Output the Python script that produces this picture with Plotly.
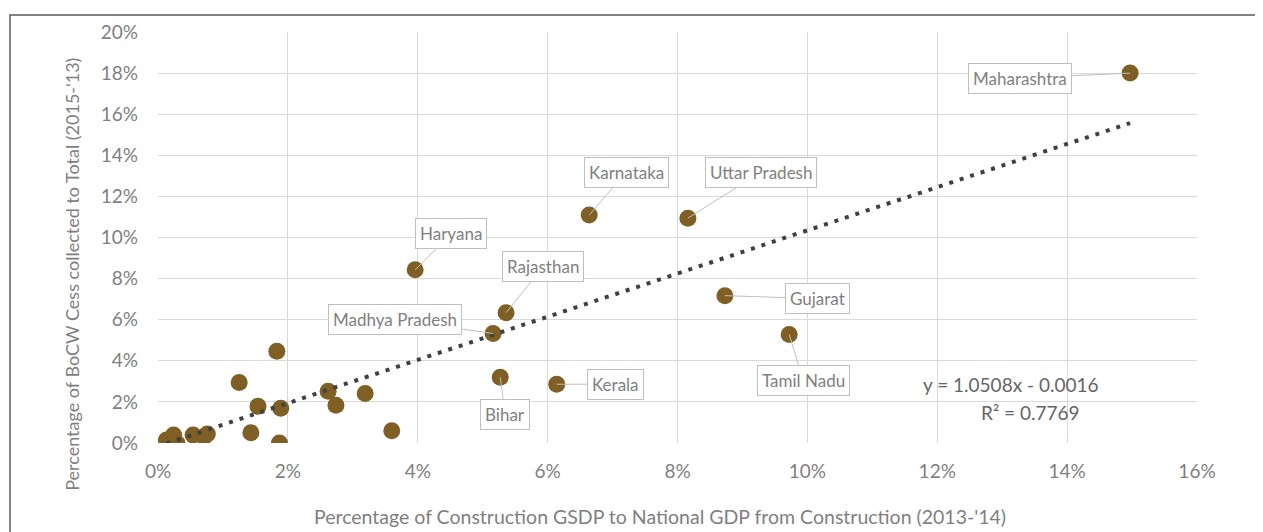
import plotly.graph_objects as go

# ---- data (fractions) ----
states = ["Maharashtra", "Karnataka", "Uttar Pradesh", "Haryana", "Rajasthan",
          "Madhya Pradesh", "Gujarat", "Tamil Nadu", "Bihar", "Kerala",
          "", "", "", "", "", "", "", "", "", "", "", "", "", "", "", ""]
gsdp_share = [0.1497, 0.0664, 0.0816, 0.0396, 0.0536,
              0.0516, 0.0873, 0.0972, 0.0527, 0.0614,
              0.0183, 0.0125, 0.0154, 0.0189, 0.0143, 0.0187, 0.0262, 0.0274,
              0.0319, 0.0360, 0.0013, 0.0024, 0.0029, 0.0054, 0.0071, 0.0076]
cess_share = [0.1800, 0.1109, 0.1094, 0.0843, 0.0634,
              0.0533, 0.0717, 0.0528, 0.0320, 0.0286,
              0.0447, 0.0294, 0.0179, 0.0169, 0.0050, 0.0000, 0.0252, 0.0184,
              0.0241, 0.0060, 0.0015, 0.0039, 0.0000, 0.0039, 0.0031, 0.0044]
slope = 1.0508
intercept = -0.0016
r_squared = 0.7769
x_ticks = [0, 0.02, 0.04, 0.06, 0.08, 0.10, 0.12, 0.14, 0.16]
y_ticks = [0, 0.02, 0.04, 0.06, 0.08, 0.10, 0.12, 0.14, 0.16, 0.18, 0.20]

x_title = "Percentage of Construction GSDP to National GDP from Construction (2013-'14)"
y_title = "Percentage of BoCW Cess collected to Total (2015-'13)"

# label offsets (pixels) for callouts
label_offsets = {
    "Maharashtra": (-110, 5), "Karnataka": (37, -43), "Uttar Pradesh": (73, -46),
    "Haryana": (36, -36), "Rajasthan": (37, -46), "Madhya Pradesh": (-98, -14),
    "Gujarat": (93, 3), "Tamil Nadu": (14, 46), "Bihar": (5, 37), "Kerala": (59, 0),
}

FONT = "Lato"
GRAY = "#7f7f7f"
MARKER = "#7F5F24"

# page body has an 8px margin; plot area target 158..1197 x 30..443 on screen
L, T = 150, 22
PW, PH = 1039, 413

fig = go.Figure()
fig.add_trace(go.Scatter(
    x=gsdp_share, y=cess_share, mode="markers",
    marker=dict(size=17, color=MARKER, line=dict(width=0)),
    text=states, hoverinfo="x+y+text", showlegend=False))

x_lo, x_hi = min(gsdp_share), max(gsdp_share)
fig.add_trace(go.Scatter(
    x=[x_lo, x_hi], y=[slope * x_lo + intercept, slope * x_hi + intercept],
    mode="lines", line=dict(color="#404040", width=4, dash="4px,7px"),
    hoverinfo="skip", showlegend=False))

annotations = []
for name, xv, yv in zip(states, gsdp_share, cess_share):
    if not name:
        continue
    ax, ay = label_offsets[name]
    annotations.append(dict(
        x=xv, y=yv, xref="x", yref="y", text=name, showarrow=True,
        ax=ax, ay=ay, arrowhead=0, arrowwidth=1, arrowcolor="#bfbfbf",
        standoff=0, startstandoff=0,
        bgcolor="white", bordercolor="#bfbfbf", borderwidth=1, borderpad=4,
        font=dict(family=FONT, size=17, color=GRAY)))

annotations.append(dict(
    x=0.1313, y=0.0285, xref="x", yref="y", showarrow=False,
    text=f"y = {slope:.4f}x - {abs(intercept):.4f}",
    font=dict(family=FONT, size=19, color="#666666")))
annotations.append(dict(
    x=0.1343, y=0.0150, xref="x", yref="y", showarrow=False,
    text=f"R² = {r_squared:.4f}",
    font=dict(family=FONT, size=19, color="#666666")))

# axis titles (placed as in the reference, slightly off-centre)
annotations.append(dict(
    x=(72 - 158) / PW, y=(443 - 274) / PH, xref="paper", yref="paper",
    text=y_title, textangle=-90, showarrow=False,
    xanchor="center", yanchor="middle",
    font=dict(family=FONT, size=18, color=GRAY)))
annotations.append(dict(
    x=(660 - 158) / PW, y=(443 - 517) / PH, xref="paper", yref="paper",
    text=x_title, showarrow=False, xanchor="center", yanchor="middle",
    font=dict(family=FONT, size=19.5, color=GRAY)))

fig.update_layout(
    width=1263, height=532,
    margin=dict(l=L, r=1263 - L - PW, t=T, b=532 - T - PH),
    paper_bgcolor="white", plot_bgcolor="white",
    font=dict(family=FONT, color=GRAY),
    annotations=annotations,
    xaxis=dict(range=[0, 0.16], tickvals=x_ticks, tickformat=".0%",
               showgrid=True, gridcolor="#d9d9d9", gridwidth=1,
               zeroline=False, showline=False,
               tickfont=dict(family=FONT, size=19, color=GRAY),
               ticklabelstandoff=15),
    yaxis=dict(range=[0, 0.20], tickvals=y_ticks, tickformat=".0%",
               showgrid=True, gridcolor="#d9d9d9", gridwidth=1,
               zeroline=False, showline=False,
               tickfont=dict(family=FONT, size=19, color=GRAY),
               ticklabelstandoff=19),
    shapes=[dict(type="rect", xref="paper", yref="paper",
                 x0=(2 - L) / PW, x1=(1275 - L) / PW,
                 y0=(T + PH - 545) / PH, y1=(T + PH - 5) / PH,
                 line=dict(color="#595959", width=1.5), fillcolor="rgba(0,0,0,0)",
                 layer="below")],
)

fig.write_html("out.html")
